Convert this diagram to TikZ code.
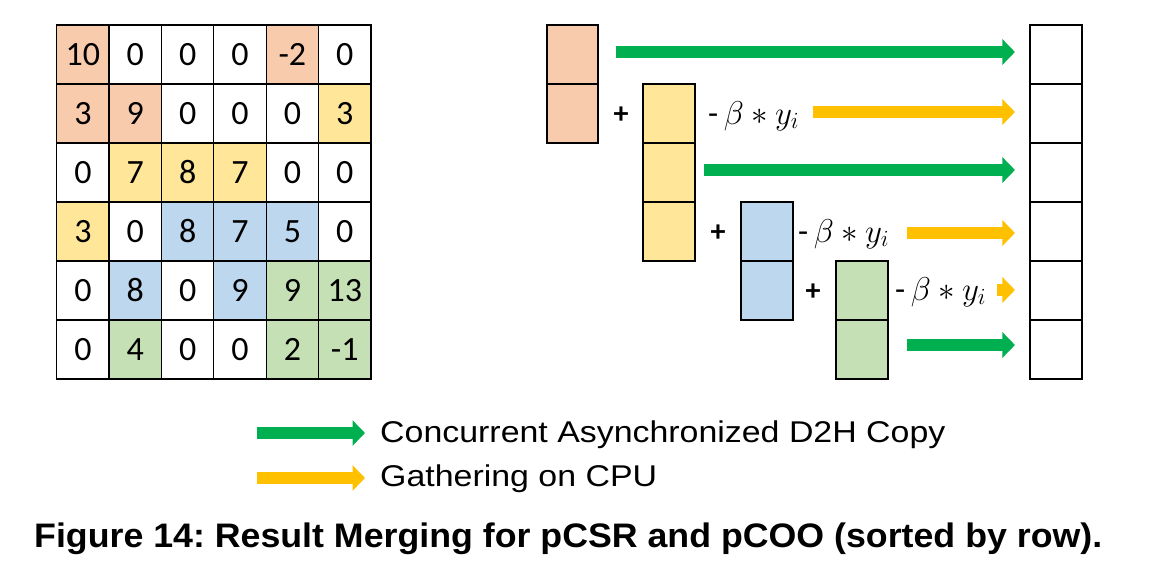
\RequirePackage{fix-cm}
\documentclass[tikz,border=0pt]{standalone}
\usepackage{fontspec}
\usepackage{graphicx}
\setmainfont{Carlito}
\newfontfamily\arialfont{Liberation Sans}
\usetikzlibrary{arrows.meta,calc}
\definecolor{corange}{HTML}{F8CBAD}
\definecolor{cyellow}{HTML}{FFE699}
\definecolor{cblue}{HTML}{BDD7EE}
\definecolor{cgreen}{HTML}{C5E0B4}
\definecolor{agreen}{HTML}{00B050}
\definecolor{ayellow}{HTML}{FFC000}
\frenchspacing
\begin{document}
\begin{tikzpicture}[x=1pt,y=-1pt,
  cell/.style={draw=black, line width=1.3pt, minimum width=52.38pt, minimum height=59pt, inner sep=0pt, font=\fontsize{34}{34}\selectfont},
  vcell/.style={draw=black, line width=1.6pt, minimum width=51.5pt, minimum height=59pt, inner sep=0pt},
  fat/.style={line width=12.5pt, -{Triangle[length=12.5pt,width=25pt]}},
  garrow/.style={fat, draw=agreen},
  yarrow/.style={fat, draw=ayellow},
  plus/.style={font=\fontsize{30}{30}\selectfont\bfseries, inner sep=0pt},
  lab/.style={anchor=base west, inner sep=0pt, font=\fontsize{33}{33}\selectfont},
  legtext/.style={anchor=base west, inner sep=0pt, font=\arialfont\fontsize{30}{30}\selectfont},
]
\useasboundingbox (0,0) rectangle (1150,576);

% matrix
\foreach \r/\c/\f/\v in {
  0/0/corange/10, 0/1/white/0, 0/2/white/0, 0/3/white/0, 0/4/corange/-2, 0/5/white/0,
  1/0/corange/3, 1/1/corange/9, 1/2/white/0, 1/3/white/0, 1/4/white/0, 1/5/cyellow/3,
  2/0/white/0, 2/1/cyellow/7, 2/2/cyellow/8, 2/3/cyellow/7, 2/4/white/0, 2/5/white/0,
  3/0/cyellow/3, 3/1/white/0, 3/2/cblue/8, 3/3/cblue/7, 3/4/cblue/5, 3/5/white/0,
  4/0/white/0, 4/1/cblue/8, 4/2/white/0, 4/3/cblue/9, 4/4/cgreen/9, 4/5/cgreen/13,
  5/0/white/0, 5/1/cgreen/4, 5/2/white/0, 5/3/white/0, 5/4/cgreen/2, 5/5/cgreen/-1}
  \node[cell, fill=\f] (m\r\c) at ({56.7+52.38*(\c+0.5)}, {54.5+59*\r}) {\v};

% result column
\foreach \r in {0,...,5}
  \node[vcell, fill=white] (r\r) at (1056, {54.5+59*\r}) {};
% partial columns
\node[vcell, fill=corange] (o0) at (572.5, 54.5) {};
\node[vcell, fill=corange] (o1) at (572.5, 113.5) {};
\node[vcell, fill=cyellow] (y1) at (669, 113.5) {};
\node[vcell, fill=cyellow] (y2) at (669, 172.5) {};
\node[vcell, fill=cyellow] (y3) at (669, 231.5) {};
\node[vcell, fill=cblue] (b3) at (767, 231.5) {};
\node[vcell, fill=cblue] (b4) at (767, 290.5) {};
\node[vcell, fill=cgreen] (g4) at (862, 290.5) {};
\node[vcell, fill=cgreen] (g5) at (862, 349.5) {};

% plus signs
\node[plus] (p1) at (621, 115) {+};
\node[plus] (p3) at (718, 233) {+};
\node[plus] (p4) at (813, 292) {+};

% labels
\node[lab] (l1) at (708, 124) {-\,$\beta * y_i$};
\node[lab] (l3) at (798, 242) {-\,$\beta * y_i$};
\node[lab] (l4) at (895, 300) {-\,$\beta * y_i$};

% arrows
\coordinate (s0) at (616, 52);
\coordinate (s1) at (813, 112);
\coordinate (s2) at (704, 170);
\coordinate (s3) at (907, 233);
\coordinate (s4) at (997, 290);
\coordinate (s5) at (907, 345);
\draw[garrow, shorten >=14.5pt] (s0) -- (s0 -| r0.west);
\draw[yarrow, shorten >=14.5pt] (s1) -- (s1 -| r1.west);
\draw[garrow, shorten >=14.5pt] (s2) -- (s2 -| r2.west);
\draw[yarrow, shorten >=14.5pt] (s3) -- (s3 -| r3.west);
\draw[yarrow, shorten >=14.5pt] (s4) -- (s4 -| r4.west);
\draw[garrow, shorten >=14.5pt] (s5) -- (s5 -| r5.west);

% legend
\coordinate (lg1s) at (257, 433);
\coordinate (lg1e) at (365, 433);
\coordinate (lg2s) at (257, 478);
\coordinate (lg2e) at (365, 478);
\draw[garrow] (lg1s) -- (lg1e);
\draw[yarrow] (lg2s) -- (lg2e);
\node[legtext] (lt1) at (380, 442) {\scalebox{1.13}[1]{Concurrent Asynchronized D2H Copy}};
\node[legtext] (lt2) at (380, 486) {\scalebox{1.13}[1]{Gathering on CPU}};

% caption
\node[anchor=base west, inner sep=0pt] (cap) at (34, 547) {\resizebox{1068pt}{\height}{\arialfont\fontsize{34}{34}\selectfont\bfseries Figure 14: Result Merging for pCSR and pCOO (sorted by row).}};
\end{tikzpicture}
\end{document}
